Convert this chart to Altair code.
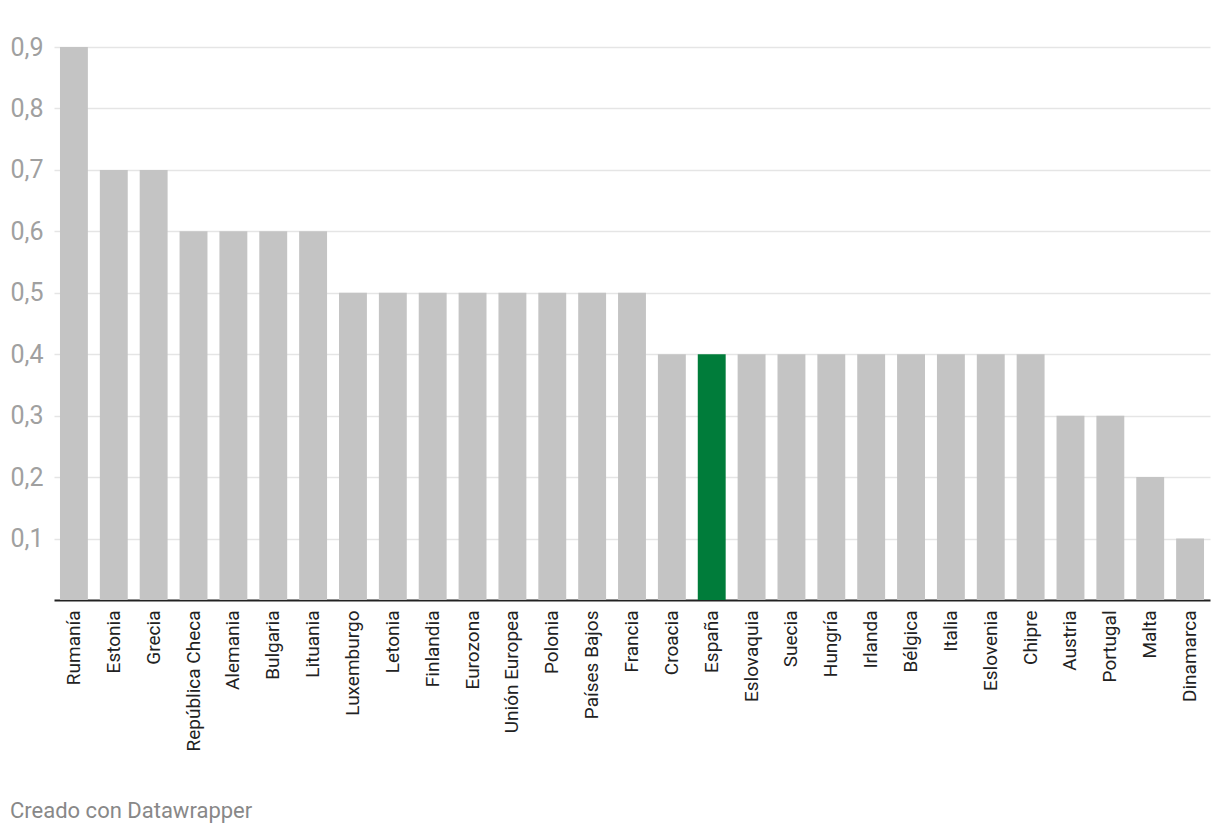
import altair as alt
import pandas as pd

countries = ["Rumanía", "Estonia", "Grecia", "República Checa", "Alemania", "Bulgaria",
             "Lituania", "Luxemburgo", "Letonia", "Finlandia", "Eurozona", "Unión Europea",
             "Polonia", "Países Bajos", "Francia", "Croacia", "España", "Eslovaquia", "Suecia",
             "Hungría", "Irlanda", "Bélgica", "Italia", "Eslovenia", "Chipre", "Austria",
             "Portugal", "Malta", "Dinamarca"]
values = [0.9, 0.7, 0.7, 0.6, 0.6, 0.6, 0.6, 0.5, 0.5, 0.5, 0.5, 0.5, 0.5, 0.5, 0.5,
          0.4, 0.4, 0.4, 0.4, 0.4, 0.4, 0.4, 0.4, 0.4, 0.4, 0.3, 0.3, 0.2, 0.1]
y_ticks = [0.1, 0.2, 0.3, 0.4, 0.5, 0.6, 0.7, 0.8, 0.9]
highlight = "España"

df = pd.DataFrame({"pais": countries, "valor": values})

chart = alt.Chart(df).mark_bar().encode(
    x=alt.X("pais:N", sort=None, title=None,
            scale=alt.Scale(paddingInner=0.3, paddingOuter=0.15),
            axis=alt.Axis(labelAngle=-90, labelAlign="right", labelBaseline="middle",
                          labelPadding=10, ticks=False, domain=True, domainColor="#222222",
                          domainWidth=2, labelColor="#222222", labelFont="Roboto",
                          labelFontSize=19, labelOverlap=False, labelLimit=300, grid=False)),
    y=alt.Y("valor:Q", title=None,
            scale=alt.Scale(domain=[0, 0.9], nice=False, zero=True),
            axis=alt.Axis(values=y_ticks, labelAlign="left", labelBaseline="middle",
                          labelPadding=44, ticks=False, tickSize=0, domain=False,
                          grid=True, gridColor="#e5e5e5", gridWidth=1.5,
                          labelColor="#a0a0a0", labelFont="Roboto", labelFontSize=25,
                          labelExpr="replace(format(datum.value, '.1f'), '.', ',')")),
    color=alt.condition(alt.datum.pais == highlight, alt.value("#007c3a"), alt.value("#c4c4c4")),
).properties(
    width=1156,
    height=553,
    background="white",
    autosize=alt.AutoSizeParams(type="none"),
    padding={"left": 46, "top": 39, "right": 2, "bottom": 232},
    title=alt.TitleParams("Creado con Datawrapper", orient="bottom", anchor="start",
                          frame="bounds", font="Roboto", fontSize=22, fontWeight="normal",
                          color="#888888", offset=50, baseline="top"),
).configure_view(strokeWidth=0, stroke="transparent")

chart.save("out.html", embed_options={"renderer": "svg", "actions": False})
